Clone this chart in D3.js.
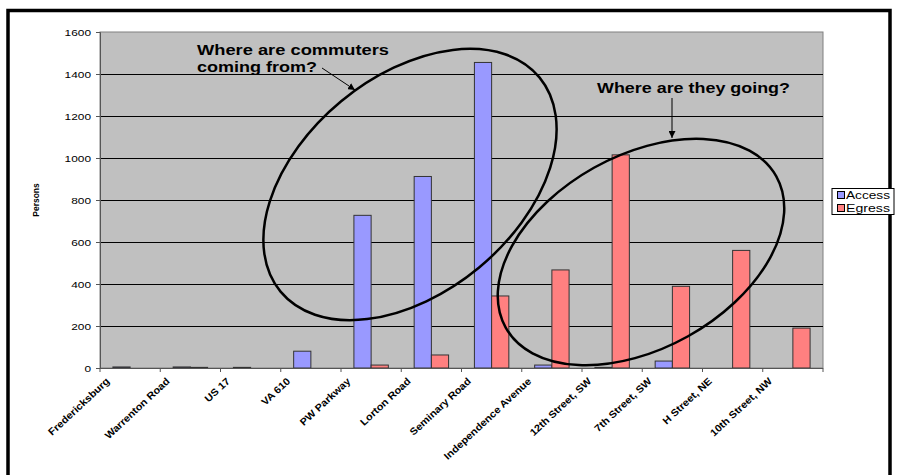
<!DOCTYPE html>
<html>
<head>
<meta charset="utf-8">
<script src="https://cdn.jsdelivr.net/npm/d3@7/dist/d3.min.js"></script>
<style>
  html, body { margin: 0; padding: 0; background: #fff; }
  svg { display: block; font-family: Arial, "Liberation Sans", sans-serif; }
</style>
</head>
<body>
<svg id="chart" width="897" height="475"></svg>
<script>
// Stations along the line, from the outer suburbs into the city
const stations = [
  "Fredericksburg", "Warrenton Road", "US 17", "VA 610", "PW Parkway",
  "Lorton Road", "Seminary Road", "Independence Avenue", "12th Street, SW",
  "7th Street, SW", "H Street, NE", "10th Street, NW"
];
// Boardings (access) and alightings (egress) per station
const access = [5, 5, 3, 80, 727, 912, 1455, 14, 3, 33, 0, 0];
const egress = [0, 3, 0, 0, 14, 62, 343, 467, 1015, 389, 560, 190];
const seriesNames = ["Access", "Egress"];
const seriesColors = ["#9999FF", "#FF8080"];
const yTicks = [0, 200, 400, 600, 800, 1000, 1200, 1400, 1600];

const svg = d3.select("#chart");
const plot = { left: 100, right: 823, top: 32, bottom: 368 };

const x = d3.scaleBand().domain(stations).range([plot.left, plot.right]).paddingInner(0).paddingOuter(0);
const bw = x.bandwidth();
const xs = d3.scaleBand().domain(seriesNames).range([bw * 0.2143, bw * 0.7857]).paddingInner(0);
const y = d3.scaleLinear().domain([0, 1600]).range([plot.bottom, plot.top]);

// Outer frame
svg.append("rect")
  .attr("x", 8).attr("y", 10.5).attr("width", 882).attr("height", 520)
  .attr("fill", "none").attr("stroke", "#000").attr("stroke-width", 3.5);

// Plot background
svg.append("rect")
  .attr("x", plot.left).attr("y", plot.top)
  .attr("width", plot.right - plot.left).attr("height", plot.bottom - plot.top)
  .attr("fill", "#C0C0C0").attr("stroke", "#808080").attr("stroke-width", 1);

// Horizontal gridlines
svg.append("g").selectAll("line")
  .data(yTicks.filter(t => t > 0 && t < 1600))
  .join("line")
  .attr("x1", plot.left).attr("x2", plot.right)
  .attr("y1", d => Math.round(y(d)) + 0.5).attr("y2", d => Math.round(y(d)) + 0.5)
  .attr("stroke", "#000").attr("stroke-width", 1);

// Bars
const rows = stations.map((s, i) => ({ station: s, values: [access[i], egress[i]] }));
const groups = svg.append("g").selectAll("g")
  .data(rows).join("g")
  .attr("transform", d => `translate(${x(d.station)},0)`);
groups.selectAll("rect")
  .data(d => d.values.map((v, k) => ({ name: seriesNames[k], value: v, k })))
  .join("rect")
  .filter(d => d.value > 0)
  .attr("x", d => xs(d.name))
  .attr("width", xs.bandwidth())
  .attr("y", d => y(d.value))
  .attr("height", d => y(0) - y(d.value))
  .attr("fill", d => seriesColors[d.k])
  .attr("stroke", "#333")
  .attr("stroke-width", 1);

// Y axis
const yAxis = svg.append("g")
  .attr("transform", `translate(${plot.left},0)`)
  .call(d3.axisLeft(y).tickValues(yTicks).tickSize(4).tickPadding(5).tickFormat(d3.format("d")));
yAxis.select(".domain").attr("stroke", "#555");
yAxis.selectAll(".tick line").attr("stroke", "#555");
yAxis.selectAll("text").attr("font-size", 9.5).attr("fill", "#000")
  .attr("font-family", 'Arial, "Liberation Sans", sans-serif')
  .each(function () {
    const len = this.getComputedTextLength();
    d3.select(this).attr("textLength", len * 1.25).attr("lengthAdjust", "spacingAndGlyphs");
  });

// X axis with ticks at category boundaries
const xAxisG = svg.append("g").attr("transform", `translate(0,${plot.bottom})`);
xAxisG.append("line")
  .attr("x1", plot.left).attr("x2", plot.right).attr("y1", 0.5).attr("y2", 0.5)
  .attr("stroke", "#555");
xAxisG.selectAll("line.tk")
  .data(stations.map(s => x(s)).concat([plot.right]))
  .join("line").attr("class", "tk")
  .attr("x1", d => d).attr("x2", d => d).attr("y1", 0).attr("y2", 4)
  .attr("stroke", "#555");
xAxisG.selectAll("text")
  .data(stations).join("text")
  .attr("transform", d => `translate(${x(d) + bw / 2 - 20},14) rotate(-43)`)
  .attr("text-anchor", "end")
  .attr("font-size", 10).attr("font-weight", "bold").attr("fill", "#000")
  .text(d => d)
  .each(function () {
    const len = this.getComputedTextLength();
    d3.select(this).attr("textLength", len * 1.09).attr("lengthAdjust", "spacingAndGlyphs");
  });

// Y axis title
svg.append("text")
  .attr("transform", "translate(39,200) rotate(-90)")
  .attr("text-anchor", "middle")
  .attr("font-size", 8.5).attr("font-weight", "bold")
  .text("Persons");

// Legend
const legend = svg.append("g");
legend.append("rect")
  .attr("x", 832).attr("y", 188.5).attr("width", 62).attr("height", 26)
  .attr("fill", "#fff").attr("stroke", "#000").attr("stroke-width", 1);
seriesNames.forEach((name, k) => {
  legend.append("rect")
    .attr("x", 837.5).attr("y", 191.5 + k * 13).attr("width", 7).attr("height", 7)
    .attr("fill", seriesColors[k]).attr("stroke", "#000").attr("stroke-width", 1);
  legend.append("text")
    .attr("x", 846).attr("y", 199 + k * 13)
    .attr("font-size", 10.5).attr("fill", "#000")
    .attr("textLength", 44).attr("lengthAdjust", "spacingAndGlyphs")
    .text(name);
});

// Annotations: ellipses around the origin and destination groups
const ellipses = [
  { cx: 410, cy: 184.5, rx: 168, ry: 108, angle: -39.6 },
  { cx: 641, cy: 252, rx: 155, ry: 96.5, angle: -29.2 }
];
svg.append("g").selectAll("ellipse")
  .data(ellipses).join("ellipse")
  .attr("cx", d => d.cx).attr("cy", d => d.cy)
  .attr("rx", d => d.rx).attr("ry", d => d.ry)
  .attr("transform", d => `rotate(${d.angle},${d.cx},${d.cy})`)
  .attr("fill", "none").attr("stroke", "#000").attr("stroke-width", 2.5);

const defs = svg.append("defs");
defs.append("marker")
  .attr("id", "arrowhead").attr("viewBox", "0 0 10 10")
  .attr("refX", 10).attr("refY", 5)
  .attr("markerWidth", 7).attr("markerHeight", 7)
  .attr("markerUnits", "userSpaceOnUse")
  .attr("orient", "auto")
  .append("path").attr("d", "M0,0 L10,5 L0,10 z").attr("fill", "#000");

const arrows = [
  { x1: 322, y1: 68, x2: 355, y2: 90 },
  { x1: 672, y1: 98, x2: 672, y2: 138 }
];
svg.append("g").selectAll("line")
  .data(arrows).join("line")
  .attr("x1", d => d.x1).attr("y1", d => d.y1)
  .attr("x2", d => d.x2).attr("y2", d => d.y2)
  .attr("stroke", "#000").attr("stroke-width", 1)
  .attr("marker-end", "url(#arrowhead)");

const notes = [
  { text: "Where are commuters", x: 197, y: 54.5, w: 192 },
  { text: "coming from?", x: 197, y: 71.5, w: 120 },
  { text: "Where are they going?", x: 597, y: 93, w: 193 }
];
svg.append("g").selectAll("text")
  .data(notes).join("text")
  .attr("x", d => d.x).attr("y", d => d.y)
  .attr("font-size", 15).attr("font-weight", "bold").attr("fill", "#000")
  .attr("textLength", d => d.w).attr("lengthAdjust", "spacingAndGlyphs")
  .text(d => d.text);
</script>
</body>
</html>
